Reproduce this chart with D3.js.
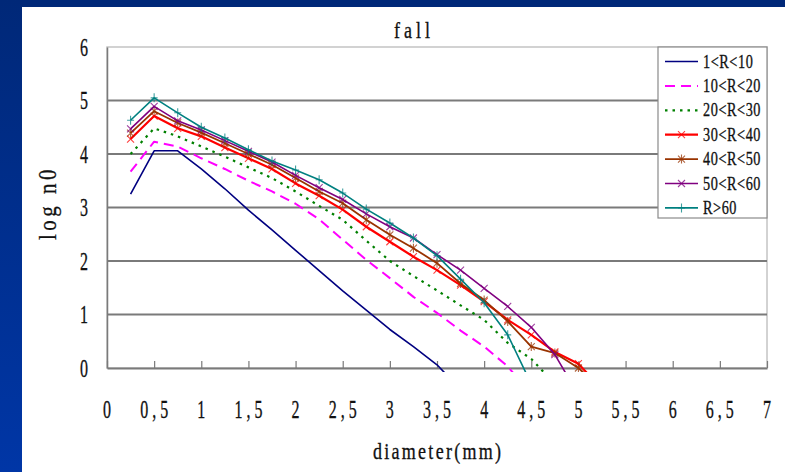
<!DOCTYPE html>
<html>
<head>
<meta charset="utf-8">
<script src="https://cdn.jsdelivr.net/npm/d3@7/dist/d3.min.js"></script>
<style>
  body { margin: 0; background: #fff; }
  text { font-family: "Liberation Serif", serif; fill: #111; stroke: #111; stroke-width: 0.25; }
</style>
</head>
<body>
<svg id="chart" width="785" height="472"></svg>
<script>
// diameter (mm) of each sample, then log n0 for each rain-rate class
var diameters = [0.25, 0.5, 0.75, 1.0, 1.25, 1.5, 1.75, 2.0, 2.25, 2.5, 2.75, 3.0, 3.25, 3.5, 3.75, 4.0, 4.25, 4.5, 4.75, 5.0, 5.25];
var r1to10  = [3.25, 4.06, 4.06, 3.72, 3.35, 2.95, 2.58, 2.2, 1.82, 1.44, 1.08, 0.72, 0.4, 0.06, -0.4];
var r10to20 = [3.67, 4.23, 4.14, 3.92, 3.72, 3.5, 3.3, 3.07, 2.78, 2.4, 2.02, 1.68, 1.33, 1.03, 0.7, 0.4, 0.03, -0.5];
var r20to30 = [4.0, 4.48, 4.33, 4.14, 3.95, 3.75, 3.55, 3.3, 3.03, 2.77, 2.38, 2.0, 1.72, 1.45, 1.17, 0.9, 0.47, 0.17, -0.3];
var r30to40 = [4.28, 4.71, 4.48, 4.33, 4.12, 3.92, 3.72, 3.45, 3.22, 2.96, 2.64, 2.36, 2.08, 1.83, 1.55, 1.24, 0.9, 0.62, 0.3, 0.08, -0.4];
var r40to50 = [4.39, 4.8, 4.58, 4.4, 4.2, 4.0, 3.8, 3.55, 3.3, 3.08, 2.77, 2.49, 2.24, 1.96, 1.58, 1.27, 0.87, 0.4, 0.28, 0.0, -0.4];
var r50to60 = [4.47, 4.89, 4.62, 4.45, 4.25, 4.05, 3.85, 3.6, 3.37, 3.15, 2.88, 2.64, 2.43, 2.12, 1.83, 1.49, 1.15, 0.76, 0.25, -0.5];
var rOver60 = [4.63, 5.05, 4.77, 4.5, 4.3, 4.08, 3.87, 3.7, 3.52, 3.27, 2.97, 2.71, 2.43, 2.1, 1.66, 1.22, 0.62, -0.3];

var seriesNames = ["1<R<10", "10<R<20", "20<R<30", "30<R<40", "40<R<50", "50<R<60", "R>60"];
var seriesValues = [r1to10, r10to20, r20to30, r30to40, r40to50, r50to60, rOver60];
var xTicks = [0, 0.5, 1, 1.5, 2, 2.5, 3, 3.5, 4, 4.5, 5, 5.5, 6, 6.5, 7];
var yTicks = [0, 1, 2, 3, 4, 5, 6];

var styles = [
  { color: "#000080", width: 1.6, dash: null, mark: null },
  { color: "#ff00ff", width: 2, dash: "10,6", mark: null },
  { color: "#008000", width: 2.2, dash: "2.5,5", mark: null },
  { color: "#ff0000", width: 2.2, dash: null, mark: "x" },
  { color: "#993300", width: 1.8, dash: null, mark: "star" },
  { color: "#800080", width: 1.6, dash: null, mark: "x" },
  { color: "#008080", width: 1.6, dash: null, mark: "plus" }
];

var svg = d3.select("#chart");

// slide frame
var grad = svg.append("defs").append("linearGradient").attr("id", "side")
  .attr("x1", 0).attr("y1", 0).attr("x2", 0).attr("y2", 1);
grad.append("stop").attr("offset", 0).attr("stop-color", "#002878");
grad.append("stop").attr("offset", 1).attr("stop-color", "#0036a6");
svg.append("rect").attr("width", 785).attr("height", 7).attr("fill", "#002878");
svg.append("rect").attr("width", 22).attr("height", 472).attr("fill", "url(#side)");

var x = d3.scaleLinear().domain([0, 7]).range([107, 767]);
var y = d3.scaleLinear().domain([0, 6]).range([368, 47]);

// narrow, tall serif text like the original
function label(g, px, py, str, size, sx, sy, anchor, ls) {
  ls = ls || 0;
  var shift = (anchor === "start") ? 0 : (anchor === "end" ? ls * sx : ls * sx / 2);
  return g.append("text")
    .attr("transform", "translate(" + (px + shift) + "," + py + ") scale(" + sx + "," + sy + ")")
    .attr("text-anchor", anchor || "middle")
    .attr("font-size", size)
    .attr("letter-spacing", ls)
    .text(str);
}

// plot border and gridlines
svg.append("rect").attr("x", x(0)).attr("y", y(6)).attr("width", x(7) - x(0)).attr("height", y(0) - y(6))
  .attr("fill", "none").attr("stroke", "#c4c4c4").attr("stroke-width", 1.5);
svg.append("g").selectAll("line").data(yTicks.filter(function(d) { return d > 0 && d < 6; }))
  .join("line")
  .attr("x1", x(0)).attr("x2", x(7))
  .attr("y1", function(d) { return y(d); }).attr("y2", function(d) { return y(d); })
  .attr("stroke", "#7a7a7a").attr("stroke-width", 2);

// axes
var xAxis = svg.append("g").attr("transform", "translate(0," + y(0) + ")")
  .call(d3.axisBottom(x).tickValues(xTicks).tickSizeInner(-7).tickSizeOuter(0).tickFormat(""));
xAxis.select(".domain").attr("stroke", "#7a7a7a").attr("stroke-width", 2);
xAxis.selectAll(".tick line").attr("stroke", "#7a7a7a").attr("stroke-width", 1.2);
var yAxis = svg.append("g").attr("transform", "translate(" + x(0) + ",0)")
  .call(d3.axisLeft(y).tickValues(yTicks).tickSize(0).tickFormat(""));
yAxis.select(".domain").attr("stroke", "#7a7a7a").attr("stroke-width", 1.5);

xTicks.forEach(function(t) {
  label(svg, x(t), 418, String(t).replace(".", ","), 20, 0.8, 1.25, "middle", 5);
});
yTicks.forEach(function(t) {
  label(svg, 88, y(t) + 8.5, String(t), 20, 0.8, 1.25, "end");
});
label(svg, 412, 38, "fall", 18, 1, 1.25, "middle", 4);
label(svg, 437, 459, "diameter(mm)", 18, 1, 1.3, "middle", 2.3);
svg.append("text")
  .attr("transform", "translate(56,203) rotate(-90) scale(1,1.15)")
  .attr("text-anchor", "middle").attr("font-size", 21).attr("letter-spacing", 3.5)
  .text("log n0");

// series
svg.append("clipPath").attr("id", "plotclip").append("rect")
  .attr("x", x(0)).attr("y", y(6)).attr("width", x(7) - x(0)).attr("height", y(0) - y(6) + 4);

var line = d3.line()
  .x(function(d, i) { return x(diameters[i]); })
  .y(function(d) { return y(d); });

function marker(g, st, px, py, s) {
  var p = "";
  if (st.mark === "x" || st.mark === "star") p += "M" + (px - s) + "," + (py - s) + "L" + (px + s) + "," + (py + s) +
    "M" + (px - s) + "," + (py + s) + "L" + (px + s) + "," + (py - s);
  if (st.mark === "star" || st.mark === "plus") p += "M" + px + "," + (py - s - 1) + "L" + px + "," + (py + s + 1);
  if (st.mark === "plus") p += "M" + (px - s) + "," + py + "L" + (px + s) + "," + py;
  g.append("path").attr("d", p).attr("stroke", st.color).attr("stroke-width", 1.1).attr("opacity", 0.75);
}

var plot = svg.append("g").attr("clip-path", "url(#plotclip)");
seriesValues.forEach(function(vals, k) {
  var st = styles[k];
  plot.append("path").datum(vals)
    .attr("d", line)
    .attr("fill", "none")
    .attr("stroke", st.color)
    .attr("stroke-width", st.width)
    .attr("stroke-dasharray", st.dash)
    .attr("stroke-linejoin", "round");
  if (st.mark) {
    vals.forEach(function(v, i) {
      if (v >= 0) marker(plot, st, x(diameters[i]), y(v), 3.5);
    });
  }
});

// legend
var legend = svg.append("g");
legend.append("rect").attr("x", 658).attr("y", 47).attr("width", 109).attr("height", 171)
  .attr("fill", "#fff").attr("stroke", "#8a8a8a").attr("stroke-width", 1.2);
seriesNames.forEach(function(name, k) {
  var st = styles[k];
  var ly = 61.5 + k * 24.4;
  legend.append("line").attr("x1", 665).attr("x2", 698).attr("y1", ly).attr("y2", ly)
    .attr("stroke", st.color).attr("stroke-width", st.width).attr("stroke-dasharray", st.dash);
  if (st.mark) marker(legend, st, 681.5, ly, 3.5);
  label(legend, 703, ly + 6, name, 15, 0.95, 1.2, "start", 0.6);
});
</script>
</body>
</html>
